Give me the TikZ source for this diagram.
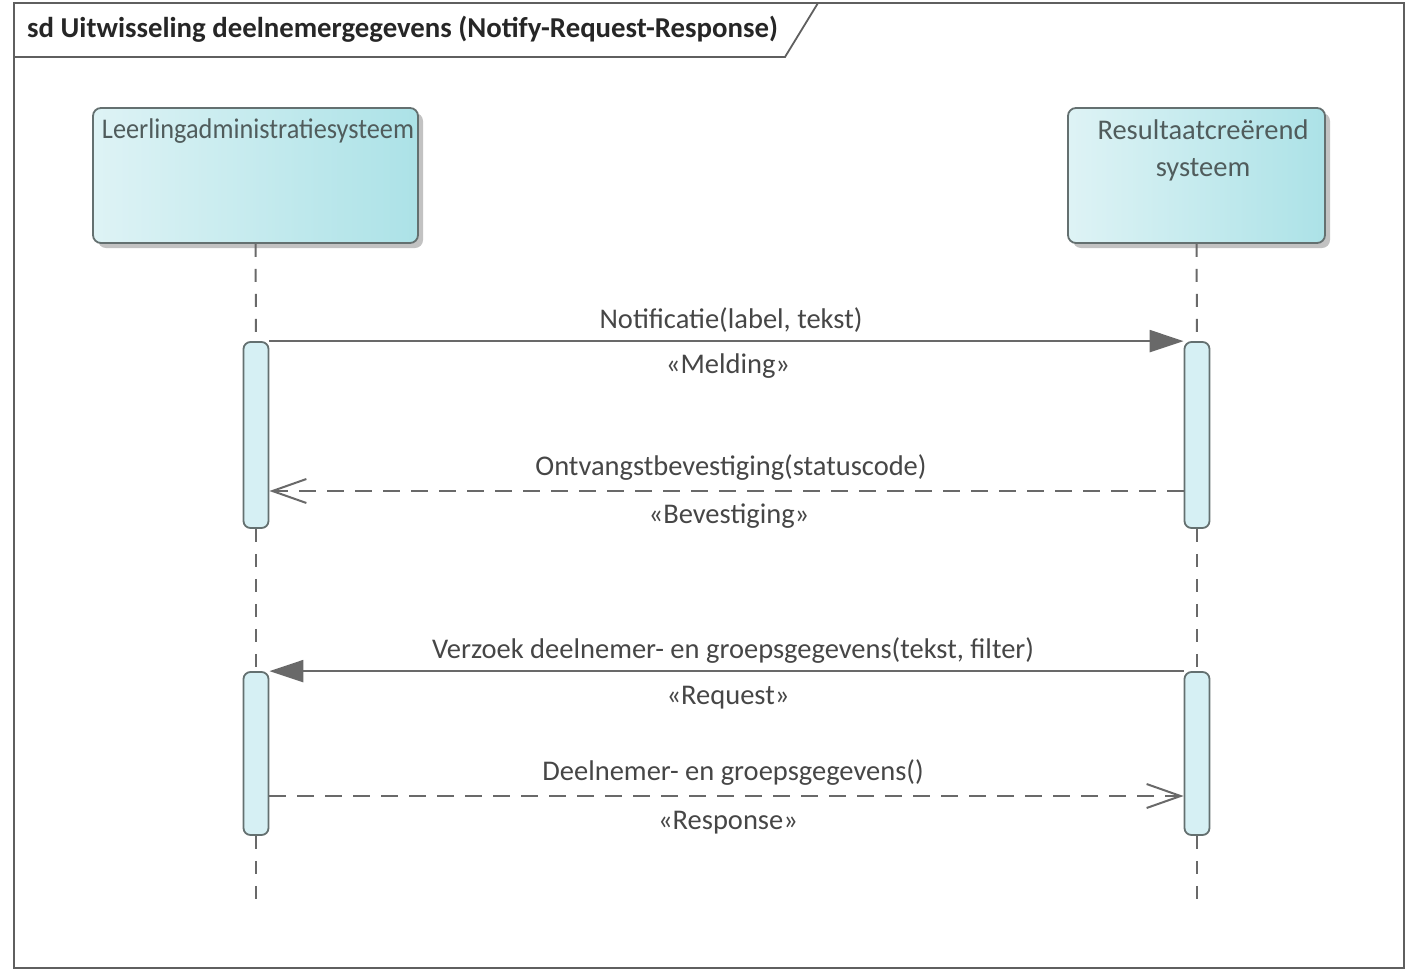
\documentclass[tikz,border=0pt]{standalone}
\usepackage{fontspec}
\setmainfont{Carlito}
\usetikzlibrary{arrows.meta,shadows}
\definecolor{frameC}{RGB}{95,95,95}
\definecolor{lineC}{RGB}{105,105,105}
\definecolor{txtC}{RGB}{70,70,70}
\definecolor{boxL}{RGB}{222,243,245}
\definecolor{boxR}{RGB}{172,226,231}
\definecolor{boxB}{RGB}{100,112,112}
\definecolor{barF}{RGB}{214,240,244}
\definecolor{labC}{RGB}{80,92,92}
\tikzset{
  lifebox/.style={draw=boxB, line width=1.8pt, rounded corners=8pt,
    left color=boxL, right color=boxR,
    drop shadow={shadow xshift=5pt, shadow yshift=-5pt, opacity=0.4, fill=black!60},
    inner sep=0pt},
  actbar/.style={draw=boxB, line width=1.8pt, rounded corners=7pt, fill=barF,
    minimum width=25pt, inner sep=0pt},
  lifeline/.style={draw=lineC, line width=2pt, dash pattern=on 13pt off 12pt},
  callmsg/.style={draw=lineC, line width=2.4pt, -{Triangle[length=34pt,width=22pt]}},
  replymsg/.style={draw=lineC, line width=2.4pt, dash pattern=on 17pt off 11pt,
    -{Straight Barb[length=34pt,width=24pt,line width=2pt]}},
  msglabel/.style={text=txtC, font=\fontsize{28.5}{34}\selectfont, inner sep=0pt},
  namelabel/.style={text=labC, font=\fontsize{28.5}{37}\selectfont, inner sep=0pt, align=center},
}
\begin{document}
\begin{tikzpicture}[x=1pt,y=-1pt]
\useasboundingbox (0,0) rectangle (1409,970);
% frame
\draw[frameC, line width=1.8pt] (14,3) rectangle (1404,968);
\draw[frameC, line width=1.8pt] (14,57) -- (785,57) -- (818,3);
\node[anchor=west, text=black!85, inner sep=0pt, font=\bfseries\fontsize{28.8}{34}\selectfont] (title) at (27,29) {sd Uitwisseling deelnemergegevens (Notify-Request-Response)};
% lifeline heads
\node[lifebox, minimum width=325pt, minimum height=135pt] (lA) at (255.5,175.5) {};
\node[lifebox, minimum width=257pt, minimum height=135pt] (lB) at (1196.5,175.5) {};
\node[namelabel] (nA) at (258,131) {\resizebox{312pt}{\height}{Leerlingadministratiesysteem}};
\node[namelabel] (nB) at (1203,150) {Resultaatcreërend\\systeem};
% activation bars
\node[actbar, minimum height=186pt] (a1) at (256,435) {};
\node[actbar, minimum height=163pt] (a2) at (256,753.5) {};
\node[actbar, minimum height=186pt] (b1) at (1197,435) {};
\node[actbar, minimum height=163pt] (b2) at (1197,753.5) {};
\coordinate (endA) at (256,905);
\coordinate (endB) at (1197,905);
% lifelines
\draw[lifeline] (lA.south) -- (a1.north);
\draw[lifeline] (a1.south) -- (a2.north);
\draw[lifeline] (a2.south) -- (endA);
\draw[lifeline] (lB.south) -- (b1.north);
\draw[lifeline] (b1.south) -- (b2.north);
\draw[lifeline] (b2.south) -- (endB);
% message rows
\coordinate (y2) at (0,491);
\coordinate (y4) at (0,796);
\draw[callmsg] (a1.north east) -- (b1.north west);
\draw[replymsg] (b1.west |- y2) -- (a1.east |- y2);
\draw[callmsg] (b2.north west) -- (a2.north east);
\draw[replymsg] (a2.east |- y4) -- (b2.west |- y4);
% labels
\node[msglabel] (t1) at (731,320) {Notificatie(label, tekst)};
\node[msglabel] (s1) at (728,366) {«Melding»};
\node[msglabel] (t2) at (731,468) {Ontvangstbevestiging(statuscode)};
\node[msglabel] (s2) at (729,516) {«Bevestiging»};
\node[msglabel] (t3) at (733,651) {Verzoek deelnemer- en groepsgegevens(tekst, filter)};
\node[msglabel] (s3) at (728,698) {«Request»};
\node[msglabel] (t4) at (733,773) {Deelnemer- en groepsgegevens()};
\node[msglabel] (s4) at (728,823) {«Response»};
\end{tikzpicture}
\end{document}
